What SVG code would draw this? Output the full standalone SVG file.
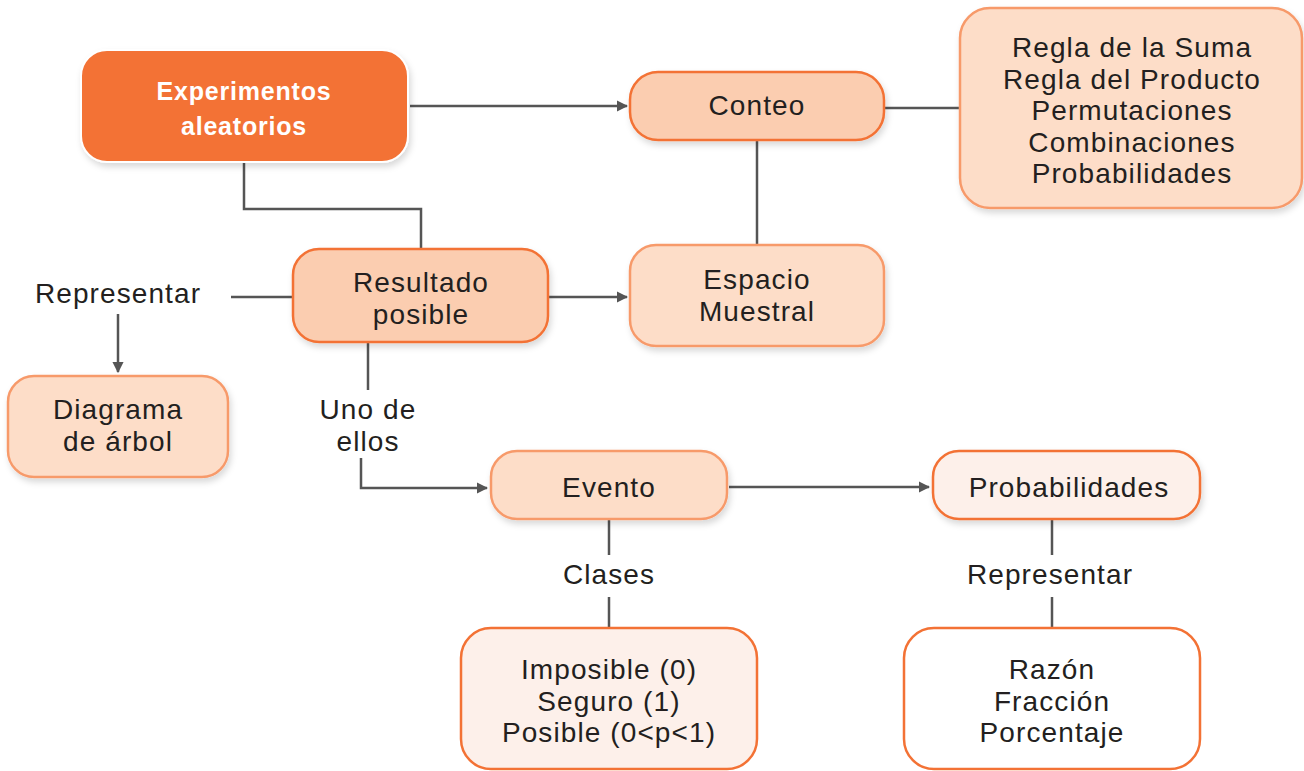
<svg xmlns="http://www.w3.org/2000/svg" width="1304" height="771" viewBox="0 0 1304 771">
<style>
  text { font-family: "Liberation Sans", Arial, sans-serif; font-size: 28px; letter-spacing: 1.1px; fill: #231f20; text-anchor: middle; }
  .title { font-weight: bold; fill: #ffffff; font-size: 25px; letter-spacing: 0.8px; }
  .dark { fill: #FBCDB0; stroke: #F37235; stroke-width: 2.5; }
  .mid { fill: #FDDDC8; stroke: #F79A6B; stroke-width: 2.5; }
  .light { fill: #FDF0EA; stroke: #F37235; stroke-width: 2.5; }
  .white { fill: #ffffff; stroke: #F37235; stroke-width: 2.5; }
  .main { fill: #F37235; stroke: #ffffff; stroke-width: 2; }
  .conn { fill: none; stroke: #555555; stroke-width: 2.5; }
</style>
<defs>
  <marker id="arr" viewBox="0 0 10 10" refX="9" refY="5" markerWidth="4.5" markerHeight="4.5" markerUnits="strokeWidth" orient="auto">
    <path d="M0,0 L10,5 L0,10 z" fill="#555555"/>
  </marker>
  <filter id="sh" x="-10%" y="-10%" width="130%" height="140%">
    <feDropShadow dx="2" dy="4" stdDeviation="3" flood-color="#000000" flood-opacity="0.15"/>
  </filter>
</defs>
<rect width="1304" height="771" fill="#ffffff"/>

<g id="connectors">
  <line class="conn" x1="410" y1="106" x2="627" y2="106" marker-end="url(#arr)"/>
  <line class="conn" x1="884" y1="108" x2="960" y2="108"/>
  <line class="conn" x1="757" y1="140" x2="757" y2="245"/>
  <polyline class="conn" points="244,162 244,209 421,209 421,249"/>
  <line class="conn" x1="548" y1="297" x2="627" y2="297" marker-end="url(#arr)"/>
  <line class="conn" x1="231" y1="297" x2="293" y2="297"/>
  <line class="conn" x1="118" y1="314" x2="118" y2="372" marker-end="url(#arr)"/>
  <line class="conn" x1="368" y1="342" x2="368" y2="390"/>
  <polyline class="conn" points="361,458 361,488 487,488" marker-end="url(#arr)"/>
  <line class="conn" x1="729" y1="487" x2="929" y2="487" marker-end="url(#arr)"/>
  <line class="conn" x1="609" y1="519" x2="609" y2="555"/>
  <line class="conn" x1="609" y1="597" x2="609" y2="628"/>
  <line class="conn" x1="1052" y1="519" x2="1052" y2="555"/>
  <line class="conn" x1="1052" y1="597" x2="1052" y2="628"/>
  <text x="118" y="303">Representar</text>
  <text x="368" y="419"><tspan x="368">Uno de</tspan><tspan x="368" dy="32">ellos</tspan></text>
  <text x="609" y="584">Clases</text>
  <text x="1050" y="584">Representar</text>
</g>

<g id="experimentos">
  <rect class="main" x="81" y="50" width="327" height="112" rx="26" filter="url(#sh)"/>
  <text class="title" x="244" y="100"><tspan x="244">Experimentos</tspan><tspan x="244" dy="35">aleatorios</tspan></text>
</g>

<g id="conteo">
  <rect class="dark" x="630" y="72" width="254" height="68" rx="28" filter="url(#sh)"/>
  <text x="757" y="115">Conteo</text>
</g>

<g id="reglas">
  <rect class="mid" x="960" y="8" width="342" height="200" rx="30" filter="url(#sh)"/>
  <text x="1132" y="57"><tspan x="1132">Regla de la Suma</tspan><tspan x="1132" dy="31.5">Regla del Producto</tspan><tspan x="1132" dy="31.5">Permutaciones</tspan><tspan x="1132" dy="31.5">Combinaciones</tspan><tspan x="1132" dy="31.5">Probabilidades</tspan></text>
</g>

<g id="espacio">
  <rect class="mid" x="630" y="245" width="254" height="101" rx="26" filter="url(#sh)"/>
  <text x="757" y="289"><tspan x="757">Espacio</tspan><tspan x="757" dy="32">Muestral</tspan></text>
</g>

<g id="resultado">
  <rect class="dark" x="293" y="249" width="255" height="93" rx="26" filter="url(#sh)"/>
  <text x="421" y="292"><tspan x="421">Resultado</tspan><tspan x="421" dy="32">posible</tspan></text>
</g>

<g id="diagrama">
  <rect class="mid" x="8" y="376" width="220" height="101" rx="26" filter="url(#sh)"/>
  <text x="118" y="419"><tspan x="118">Diagrama</tspan><tspan x="118" dy="32">de árbol</tspan></text>
</g>

<g id="evento">
  <rect class="mid" x="491" y="451" width="236" height="68" rx="26" filter="url(#sh)"/>
  <text x="609" y="497">Evento</text>
</g>

<g id="probabilidades">
  <rect class="light" x="933" y="451" width="267" height="68" rx="26" filter="url(#sh)"/>
  <text x="1069" y="497">Probabilidades</text>
</g>

<g id="clases">
  <rect class="light" x="461" y="628" width="296" height="141" rx="30"/>
  <text x="609" y="679"><tspan x="609">Imposible (0)</tspan><tspan x="609" dy="31.5">Seguro (1)</tspan><tspan x="609" dy="31.5">Posible (0&lt;p&lt;1)</tspan></text>
</g>

<g id="representaciones">
  <rect class="white" x="904" y="628" width="296" height="141" rx="30"/>
  <text x="1052" y="679"><tspan x="1052">Razón</tspan><tspan x="1052" dy="31.5">Fracción</tspan><tspan x="1052" dy="31.5">Porcentaje</tspan></text>
</g>
</svg>
